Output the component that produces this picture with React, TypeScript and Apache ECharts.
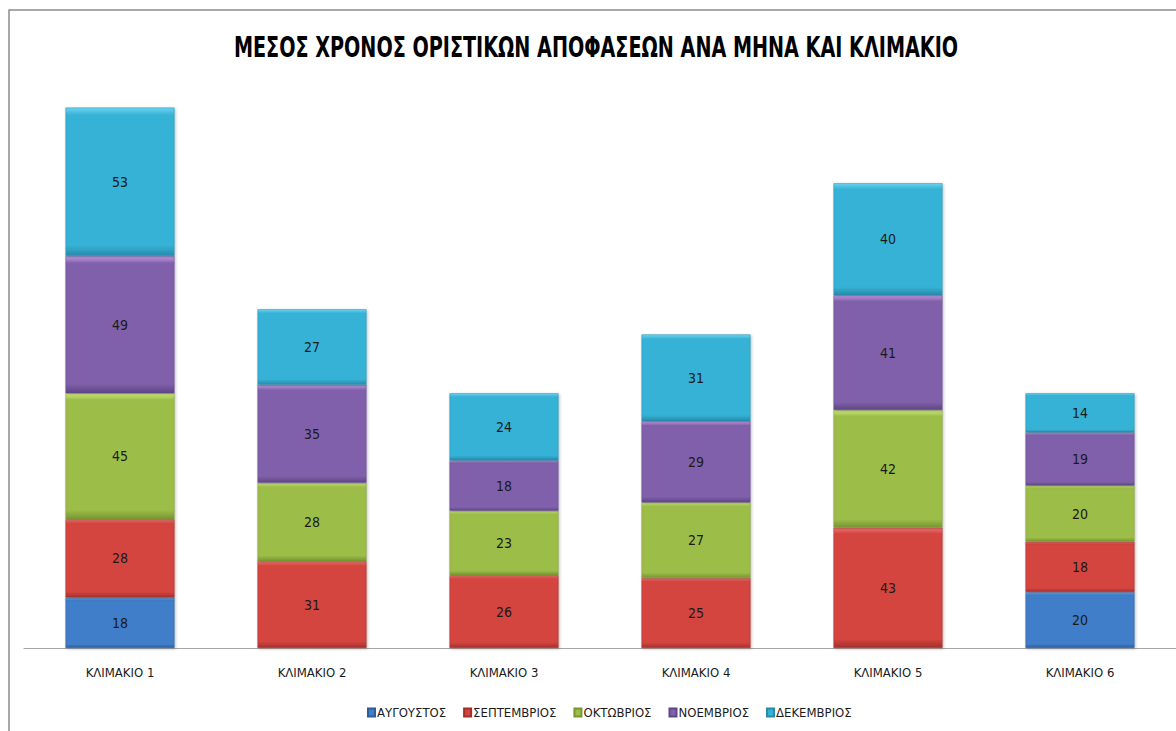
import React, { useEffect, useRef } from "react";
import * as echarts from "echarts";

const categories = ["ΚΛΙΜΑΚΙΟ 1", "ΚΛΙΜΑΚΙΟ 2", "ΚΛΙΜΑΚΙΟ 3", "ΚΛΙΜΑΚΙΟ 4", "ΚΛΙΜΑΚΙΟ 5", "ΚΛΙΜΑΚΙΟ 6"];
const seriesNames = ["ΑΥΓΟΥΣΤΟΣ", "ΣΕΠΤΕΜΒΡΙΟΣ", "ΟΚΤΩΒΡΙΟΣ", "ΝΟΕΜΒΡΙΟΣ", "ΔΕΚΕΜΒΡΙΟΣ"];
const august: (number | string)[] = [18, "-", "-", "-", "-", 20];
const september = [28, 31, 26, 25, 43, 18];
const october = [45, 28, 23, 27, 42, 20];
const november = [49, 35, 18, 29, 41, 19];
const december = [53, 27, 24, 31, 40, 14];
const title = "ΜΕΣΟΣ ΧΡΟΝΟΣ ΟΡΙΣΤΙΚΩΝ ΑΠΟΦΑΣΕΩΝ ΑΝΑ ΜΗΝΑ ΚΑΙ ΚΛΙΜΑΚΙΟ";

const palettes = [
  { light: "#72b4f2", mid: "#407ec9", dark: "#2c5d9a" },
  { light: "#f27a74", mid: "#d4443f", dark: "#a32f2b" },
  { light: "#d4f07e", mid: "#9dbd49", dark: "#789532" },
  { light: "#c99de8", mid: "#8161ab", dark: "#5f4687" },
  { light: "#6ad4ef", mid: "#36b2d6", dark: "#278aab" },
];

const FONT = "'Liberation Sans Narrow', 'DejaVu Sans Condensed', 'Noto Sans', sans-serif";

export default function App() {
  const ref = useRef<HTMLDivElement>(null);
  useEffect(() => {
    if (!ref.current) return;
    const chart = echarts.init(ref.current, undefined, { renderer: "svg" });
    const data = [august, september, october, november, december];
    chart.setOption({
      animation: false,
      backgroundColor: "#ffffff",
      textStyle: { fontFamily: FONT },
      graphic: [
        {
          type: "rect",
          shape: { x: 9, y: 10, width: 1300, height: 900 },
          style: { fill: "none", stroke: "#8c8c8c", lineWidth: 1.5 },
          silent: true,
        },
        {
          type: "group",
          x: 596,
          y: 47,
          scaleX: 0.735,
          children: [
            {
              type: "text",
              x: 0,
              y: 0,
              style: {
                text: title,
                fontFamily: FONT,
                fontSize: 29,
                fontWeight: "bold",
                fill: "#000000",
                align: "center",
                verticalAlign: "middle",
              },
            },
          ],
        },
      ],
      legend: {
        bottom: 7,
        left: 362,
        itemWidth: 7,
        itemHeight: 8,
        itemGap: 17,
        icon: "rect",
        textStyle: { fontFamily: FONT, fontSize: 13, color: "#1a1a1a", padding: [0, 0, 0, -3] },
        data: seriesNames,
      },
      grid: { left: 24, right: 0, top: 88, bottom: 83, containLabel: false },
      xAxis: {
        type: "category",
        data: categories,
        axisLine: { lineStyle: { color: "#a6a6a6", width: 1 } },
        axisTick: { show: false },
        axisLabel: { fontFamily: FONT, fontSize: 13, color: "#1a1a1a", margin: 18 },
      },
      yAxis: {
        type: "value",
        min: 0,
        max: 200,
        show: false,
        splitLine: { show: false },
      },
      series: seriesNames.map((name, i) => ({
        name,
        type: "bar",
        stack: "total",
        barWidth: 109,
        data: data[i],
        itemStyle: {
          color: new echarts.graphic.LinearGradient(0, 0, 0, 1, [
            { offset: 0, color: palettes[i].light },
            { offset: 0.05, color: palettes[i].mid },
            { offset: 0.93, color: palettes[i].mid },
            { offset: 1, color: palettes[i].dark },
          ]),
          borderColor: palettes[i].dark,
          borderWidth: 0.5,
          shadowColor: "rgba(0,0,0,0.25)",
          shadowBlur: 3,
          shadowOffsetX: 1,
          shadowOffsetY: 1,
        },
        label: {
          show: true,
          position: "inside",
          fontFamily: FONT,
          fontSize: 14,
          color: "#1a1a1a",
        },
      })),
    });
    return () => chart.dispose();
  }, []);
  return (
    <div
      ref={ref}
      style={{ position: "fixed", left: 0, top: 0, width: 1176, height: 731 }}
    />
  );
}
